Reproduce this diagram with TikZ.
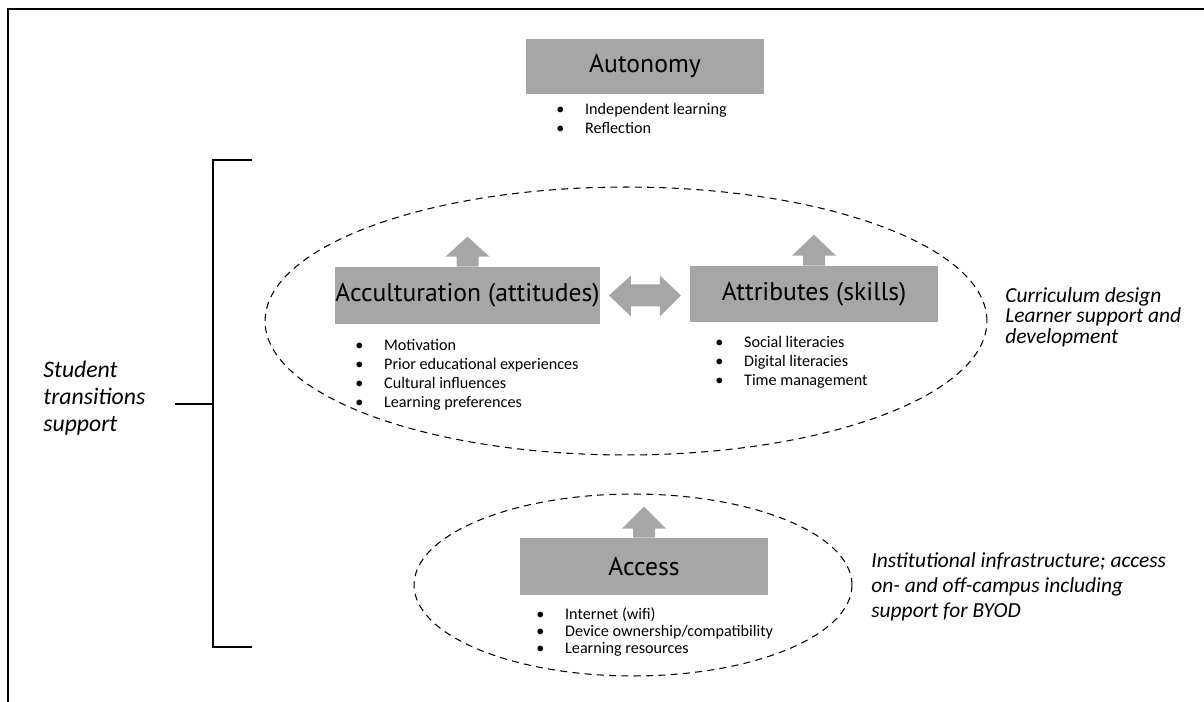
\documentclass[tikz,border=0pt]{standalone}
\usepackage{fontspec}
\setmainfont{Carlito}
\newfontfamily\headfont{PT Sans}
\usetikzlibrary{positioning,shapes.geometric}
\definecolor{boxgray}{HTML}{A6A6A6}
\tikzset{
  headbox/.style={fill=boxgray,inner sep=0pt,font=\headfont\fontsize{14.6}{16}\selectfont},
  bullets/.style={anchor=north west,align=left,inner sep=0pt,font=\fontsize{9.2}{10.8}\selectfont},
  sidenote/.style={anchor=north west,align=left,inner sep=0pt,font=\itshape\fontsize{12.2}{11.8}\selectfont},
  zone/.style={ellipse,draw=black,dashed,dash pattern=on 4pt off 3pt,line width=0.6pt,inner sep=0pt},
  blockarrow/.style={fill=boxgray},
  bracket/.style={draw=black,line width=0.6pt},
}
\newcommand{\bitem}{\makebox[16.4pt][l]{\textbullet}}

\begin{document}
\begin{tikzpicture}[x=0.02cm,y=-0.02cm]
  \useasboundingbox (0,0) rectangle (1204,702);
  % frame
  \draw[line width=0.9pt] (8,702) -- (8,9) -- (1204,9);

  % dashed zones
  \node[zone,minimum width=14.44cm,minimum height=5.36cm] (zcurr) at (626,321) {};
  \node[zone,minimum width=8.76cm,minimum height=3.64cm] (zacc) at (633,585) {};

  % grey boxes
  \node[headbox,minimum width=4.76cm,minimum height=1.12cm] (auto) at (645,66.5) {Autonomy};
  \node[headbox,minimum width=5.26cm,minimum height=1.14cm] (accu) at (467.5,295.5) {Acculturation (attitudes)};
  \node[headbox,minimum width=4.96cm,minimum height=1.12cm] (attr) at (814,294) {Attributes (skills)};
  \node[headbox,minimum width=4.96cm,minimum height=1.14cm] (acce) at (644,566.5) {Access};

  % bullet lists
  \node[bullets] (autolist) at (556,103) {\bitem Independent learning\\ \bitem Reflection};
  \node[bullets] (acculist) at (355,339) {\bitem Motivation\\ \bitem Prior educational experiences\\ \bitem Cultural influences\\ \bitem Learning preferences};
  \node[bullets] (attrlist) at (715,336) {\bitem Social literacies\\ \bitem Digital literacies\\ \bitem Time management};
  \node[bullets,font=\fontsize{9.2}{9.9}\selectfont] (accelist) at (536,607) {\bitem Internet (wifi)\\ \bitem Device ownership/compatibility\\ \bitem Learning resources};

  % side notes
  \node[sidenote] (currnote) at (1005,287) {Curriculum design\\Learner support and\\development};
  \node[sidenote,font=\itshape\fontsize{12.2}{14.2}\selectfont] (instnote) at (871,552) {Institutional infrastructure; access\\on- and off-campus including\\support for BYOD};
  \node[sidenote,font=\itshape\fontsize{13.5}{15.3}\selectfont] (stsnote) at (43,361) {Student\\transitions\\support};

  % bracket
  \coordinate (brtop) at (252,160);
  \coordinate (brbot) at (252,647);
  \coordinate (brmid) at (213,404);
  \draw[bracket] (brtop) -- (213,160) -- (213,647) -- (brbot);
  \draw[bracket] (175,404) -- (brmid);

  % block arrows
  \fill[blockarrow] (accu.north) ++(-11,0) -- ++(0,-10) -- ++(-11,0) -- ++(22,-20) -- ++(22,20) -- ++(-11,0) -- ++(0,10) -- cycle;
  \fill[blockarrow] (attr.north) ++(-11,0) -- ++(0,-10) -- ++(-11,0) -- ++(22,-21) -- ++(22,21) -- ++(-11,0) -- ++(0,10) -- cycle;
  \fill[blockarrow] (acce.north) ++(-11,0) -- ++(0,-9) -- ++(-11,0) -- ++(22,-22) -- ++(22,22) -- ++(-11,0) -- ++(0,9) -- cycle;
  \fill[blockarrow] (accu.east) ++(9,0) -- ++(22,-20) -- ++(0,9) -- ++(29,0) -- ++(0,-9) -- ++(21,20) -- ++(-21,21) -- ++(0,-10) -- ++(-29,0) -- ++(0,10) -- cycle;
\end{tikzpicture}
\end{document}
